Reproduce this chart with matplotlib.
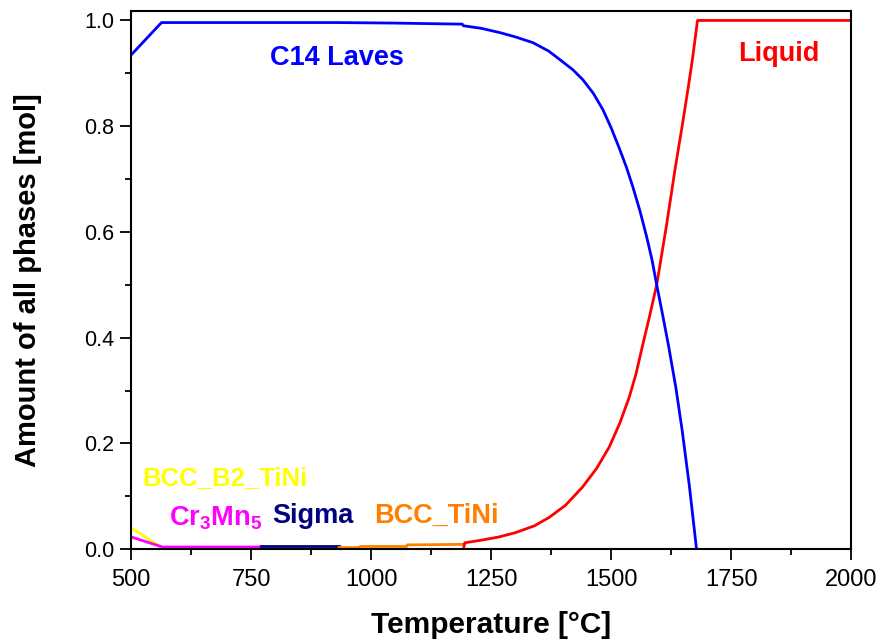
import matplotlib
matplotlib.use('Agg')
import matplotlib.pyplot as plt
from matplotlib.ticker import MultipleLocator

plt.rcParams['font.family'] = ['Liberation Sans', 'DejaVu Sans']
plt.rcParams['mathtext.fontset'] = 'custom'
plt.rcParams['mathtext.rm'] = 'Liberation Sans'
plt.rcParams['mathtext.bf'] = 'Liberation Sans:bold'

# phase amounts (temperature in C, amount in mol)
laves_T = [500, 563, 930, 1050, 1190, 1192, 1230, 1268, 1300, 1337, 1370, 1393,
           1420, 1441, 1463, 1483, 1500, 1518, 1532, 1545, 1560, 1574, 1585,
           1595, 1608, 1620, 1635, 1648, 1663, 1678]
laves_v = [0.935, 0.996, 0.996, 0.995, 0.993, 0.990, 0.985, 0.977, 0.969, 0.958,
           0.942, 0.926, 0.907, 0.888, 0.862, 0.831, 0.797, 0.756, 0.722, 0.686,
           0.640, 0.591, 0.548, 0.5, 0.440, 0.383, 0.305, 0.225, 0.12, 0.0]

liquid_T = [1193, 1195, 1230, 1266, 1300, 1340, 1371, 1405, 1440, 1470, 1496,
            1518, 1538, 1552, 1565, 1580, 1595, 1615, 1634, 1648, 1661, 1670,
            1680, 2000]
liquid_v = [0.003, 0.012, 0.017, 0.023, 0.031, 0.044, 0.06, 0.083, 0.117, 0.153,
            0.193, 0.238, 0.288, 0.332, 0.383, 0.44, 0.5, 0.61, 0.723, 0.80,
            0.875, 0.93, 1.0, 1.0]

b2_T = [500, 565]
b2_v = [0.04, 0.002]

cr3mn5_T = [500, 565, 770]
cr3mn5_v = [0.023, 0.004, 0.004]

sigma_T = [770, 933]
sigma_v = [0.005, 0.005]

bcc_T = [933, 976, 977, 1074, 1075, 1193]
bcc_v = [0.003, 0.003, 0.005, 0.005, 0.008, 0.009]

fig = plt.figure(figsize=(8.81, 6.43), dpi=100)
ax = fig.add_axes([0.149, 0.146, 0.817, 0.837])

lw = 2
ax.plot(b2_T, b2_v, color='#FFFF00', lw=lw)
ax.plot(cr3mn5_T, cr3mn5_v, color='#FF00FF', lw=lw)
ax.plot(sigma_T, sigma_v, color='#000080', lw=lw)
ax.plot(bcc_T, bcc_v, color='#FF8000', lw=lw)
ax.plot(liquid_T, liquid_v, color='#FF0000', lw=lw)
ax.plot(laves_T, laves_v, color='#0000FF', lw=lw)

fs = 19.5
ax.text(789, 0.916, 'C14 Laves', color='#0000FF', fontsize=fs, fontweight='bold', va='baseline')
ax.text(1764, 0.924, 'Liquid', color='#FF0000', fontsize=fs, fontweight='bold', va='baseline')
ax.text(522, 0.121, 'BCC_B2_TiNi', color='#FFFF00', fontsize=18.5, fontweight='bold', va='baseline')
ax.text(578, 0.045, r'$\mathbf{Cr_3Mn_5}$', color='#FF00FF', fontsize=fs, va='baseline')
ax.text(793, 0.049, 'Sigma', color='#000080', fontsize=fs, fontweight='bold', va='baseline')
ax.text(1007, 0.049, 'BCC_TiNi', color='#FF8000', fontsize=fs, fontweight='bold', va='baseline')

ax.set_xlim(500, 2000)
ax.set_ylim(0, 1.018)
ax.xaxis.set_major_locator(MultipleLocator(250))
ax.xaxis.set_minor_locator(MultipleLocator(125))
ax.yaxis.set_major_locator(MultipleLocator(0.2))
ax.yaxis.set_minor_locator(MultipleLocator(0.1))
ax.yaxis.set_major_formatter(plt.FuncFormatter(lambda v, p: '%.1f' % v))

ax.tick_params(axis='x', which='major', direction='out', length=8, width=1.3, labelsize=17, pad=6)
ax.tick_params(axis='y', which='major', direction='out', length=8, width=1.3, labelsize=15.5, pad=4)
ax.tick_params(which='minor', direction='out', length=4, width=1.3)
for s in ax.spines.values():
    s.set_linewidth(1.5)

ax.set_xlabel('Temperature [°C]', fontsize=21.5, fontweight='bold', va='center')
ax.set_ylabel('Amount of all phases [mol]', fontsize=21, fontweight='bold', va='center')
ax.xaxis.set_label_coords(0.5, -0.141)
ax.yaxis.set_label_coords(-0.143, 0.5)

fig.savefig('out.png', dpi=100)
